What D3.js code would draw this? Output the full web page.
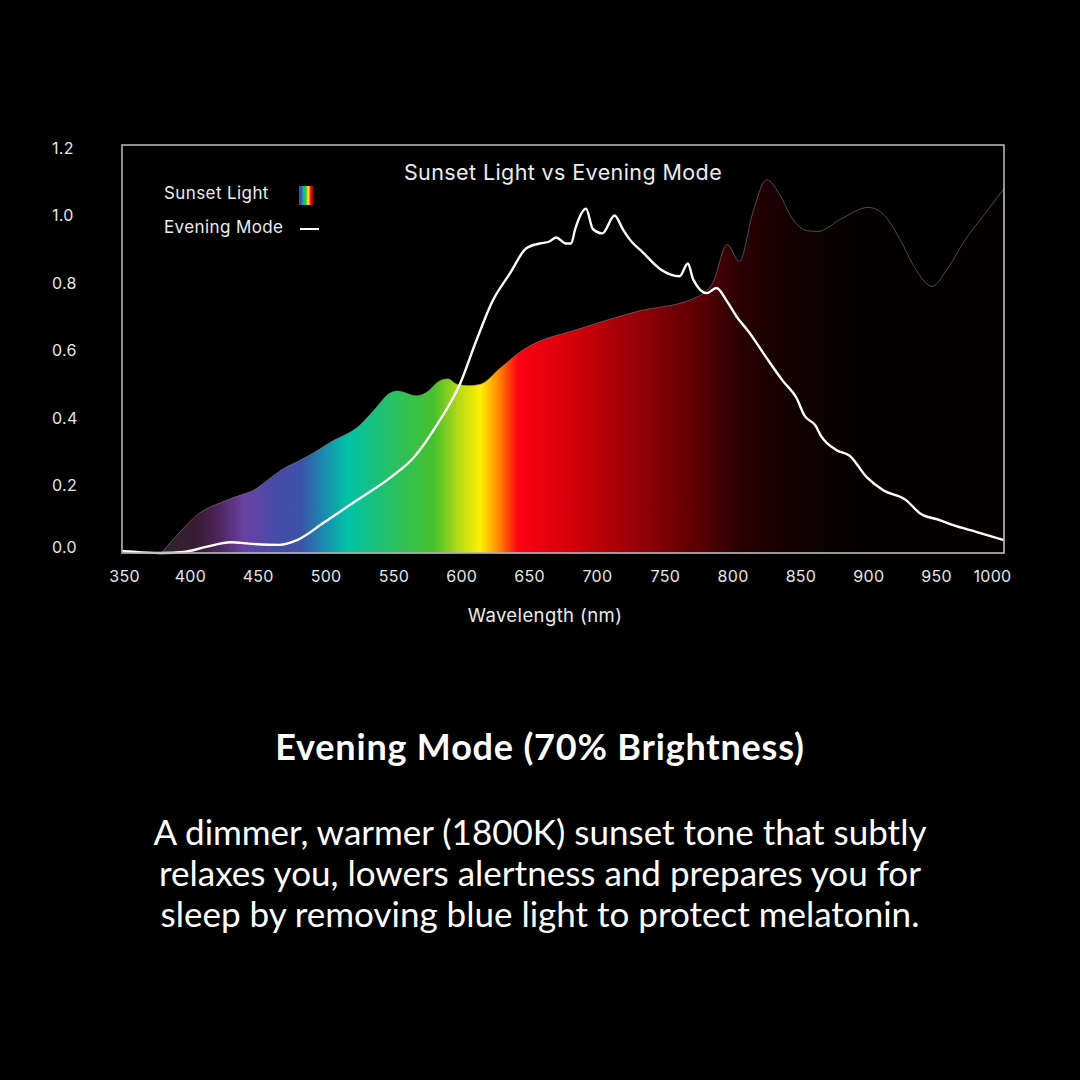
<!DOCTYPE html>
<html lang="en">
<head>
  <meta charset="UTF-8">
  <title>Sunset Light vs Evening Mode</title>
  <script src="https://d3js.org/d3.v7.min.js"></script>
  <style>
    html, body { width:100%; height:100%; margin:0; background:#000; overflow:hidden; }
    svg { display:block; }
    .chart-text { font-family: Inter, "Open Sans", sans-serif; fill:#ececec; letter-spacing:0.4px; }
    .tick text { font-family: Inter, "Open Sans", sans-serif; font-size:16px; fill:#e6e6e6; letter-spacing:0.3px; }
    .copy { font-family: Lato, "Open Sans", sans-serif; fill:#fff; }
  </style>
</head>
<body>
  <svg id="chart" width="1080" height="1080"></svg>
  <script>
    // Sunset light spectrum (relative intensity)
    const sunsetWl  = [379, 392, 407, 422, 437, 447, 457, 469, 481, 494, 503, 525, 535, 548, 553, 567, 574, 584, 590, 597, 606, 614, 629, 648, 658, 682, 731, 770, 785, 796, 805, 815, 825, 835, 844, 855, 863, 880, 900, 912, 923, 935, 947, 958, 972, 985, 1000];
    const sunsetVal = [0, 0.059, 0.118, 0.148, 0.171, 0.186, 0.215, 0.25, 0.274, 0.304, 0.327, 0.378, 0.42, 0.475, 0.48, 0.466, 0.475, 0.51, 0.516, 0.5, 0.496, 0.5, 0.549, 0.608, 0.628, 0.658, 0.717, 0.752, 0.797, 0.914, 0.864, 1.01, 1.106, 1.06, 0.991, 0.955, 0.953, 0.99, 1.024, 1.0, 0.932, 0.84, 0.79, 0.84, 0.932, 1.0, 1.08];

    // Evening mode spectrum
    const eveWl  = [350, 365, 380, 395, 412, 430, 446, 466, 479, 498, 523, 548, 565, 584, 599, 611, 623, 636, 648, 658, 665, 670, 677, 681, 684, 692, 697, 704, 713, 719, 724, 734, 747, 761, 767, 771, 781, 788, 796, 803, 812, 825, 837, 847, 853, 861, 865, 877, 886, 899, 911, 928, 938, 953, 962, 980, 1000];
    const eveVal = [0.006, 0.002, 0, 0.003, 0.018, 0.032, 0.027, 0.024, 0.038, 0.088, 0.156, 0.224, 0.283, 0.392, 0.5, 0.628, 0.746, 0.829, 0.903, 0.917, 0.923, 0.935, 0.917, 0.917, 0.96, 1.02, 0.96, 0.947, 1.0, 0.96, 0.93, 0.89, 0.84, 0.82, 0.858, 0.81, 0.77, 0.785, 0.745, 0.7, 0.655, 0.578, 0.51, 0.46, 0.407, 0.378, 0.348, 0.304, 0.289, 0.224, 0.186, 0.156, 0.118, 0.097, 0.083, 0.062, 0.038];

    // spectrum colour stops
    const gradWl    = [379, 405, 422, 440, 462, 482, 500, 516, 542, 580, 600, 614, 628, 642, 690, 734, 775, 805, 850, 900];
    const gradColor = ["#2c2530", "#3a1a33", "#4e2660", "#6a42a2", "#4a4aa8", "#3a52a8", "#1a8fb0", "#00c2a6", "#20c070", "#48c02c", "#c0dc14", "#fff000", "#ff8400", "#ff0012", "#c80008", "#900006", "#5a0004", "#2a0002", "#100000", "#040000"];

    const xTicks = [350, 400, 450, 500, 550, 600, 650, 700, 750, 800, 850, 900, 950, 1000];
    const yTicks = [0, 0.2, 0.4, 0.6, 0.8, 1.0, 1.2];

    const bodyLines = [
      "A dimmer, warmer (1800K) sunset tone that subtly",
      "relaxes you, lowers alertness and prepares you for",
      "sleep by removing blue light to protect melatonin."
    ];

    const svg = d3.select("#chart");
    const x = d3.scaleLinear().domain([350, 1000]).range([122, 1004]);
    const y = d3.scaleLinear().domain([0, 1.2]).range([553, 148]);

    const defs = svg.append("defs");
    const grad = defs.append("linearGradient")
      .attr("id", "spectrum")
      .attr("gradientUnits", "userSpaceOnUse")
      .attr("x1", x(350)).attr("x2", x(1000)).attr("y1", 0).attr("y2", 0);
    grad.selectAll("stop")
      .data(gradWl)
      .join("stop")
        .attr("offset", d => (x(d) - x(350)) / (x(1000) - x(350)))
        .attr("stop-color", (d, i) => gradColor[i]);

    // little swatch for the legend
    const sw = defs.append("linearGradient").attr("id", "swatch");
    sw.selectAll("stop")
      .data(gradWl.slice(3, 16))
      .join("stop")
        .attr("offset", (d, i, n) => i / (n.length - 1))
        .attr("stop-color", (d, i) => gradColor[i + 3]);

    // sunset area
    const sunset = sunsetWl.map((w, i) => [w, sunsetVal[i]]);
    svg.append("path")
      .datum(sunset)
      .attr("fill", "url(#spectrum)")
      .attr("stroke", "#8a8a8a")
      .attr("stroke-opacity", 0.7)
      .attr("stroke-width", 0.8)
      .attr("d", d3.area()
        .x(d => x(d[0]))
        .y0(y(0))
        .y1(d => y(d[1]))
        .curve(d3.curveMonotoneX));

    // evening mode line
    const eve = eveWl.map((w, i) => [w, eveVal[i]]);
    svg.append("path")
      .datum(eve)
      .attr("fill", "none")
      .attr("stroke", "#fff")
      .attr("stroke-width", 2.4)
      .attr("stroke-linejoin", "round")
      .attr("d", d3.line()
        .x(d => x(d[0]))
        .y(d => y(d[1]))
        .curve(d3.curveMonotoneX));

    // frame
    svg.append("rect")
      .attr("x", x(350)).attr("y", 145)
      .attr("width", x(1000) - x(350)).attr("height", y(0) - 145)
      .attr("fill", "none")
      .attr("stroke", "#b4b4b4")
      .attr("stroke-width", 1.6);

    // axes
    const yAxis = svg.append("g")
      .attr("transform", "translate(52,0)")
      .call(d3.axisRight(y).tickValues(yTicks).tickFormat(d3.format(".1f")).tickSize(0).tickPadding(0));
    yAxis.select(".domain").remove();
    yAxis.selectAll(".tick text").attr("dy", d => d === 0 ? "-0.05em" : "0.32em");

    const xAxis = svg.append("g")
      .attr("transform", `translate(0,${y(0)})`)
      .call(d3.axisBottom(x).tickValues(xTicks).tickFormat(d3.format("d")).tickSize(0).tickPadding(18));
    xAxis.select(".domain").remove();
    xAxis.selectAll(".tick text").attr("dx", d => d === 1000 ? -12 : d === 350 ? 2 : 0);

    svg.append("text")
      .attr("class", "chart-text")
      .attr("x", 545).attr("y", 622)
      .attr("text-anchor", "middle")
      .style("font-size", "18.5px")
      .text("Wavelength (nm)");

    svg.append("text")
      .attr("class", "chart-text")
      .attr("x", 563).attr("y", 180)
      .attr("text-anchor", "middle")
      .style("font-size", "21.5px")
      .text("Sunset Light vs Evening Mode");

    // legend
    svg.append("text")
      .attr("class", "chart-text")
      .attr("x", 164).attr("y", 199)
      .style("font-size", "17px")
      .text("Sunset Light");
    svg.append("rect")
      .attr("x", 299).attr("y", 186)
      .attr("width", 14).attr("height", 19)
      .attr("fill", "url(#swatch)");
    svg.append("text")
      .attr("class", "chart-text")
      .attr("x", 164).attr("y", 233)
      .style("font-size", "17px")
      .text("Evening Mode");
    svg.append("line")
      .attr("x1", 300).attr("x2", 319)
      .attr("y1", 229).attr("y2", 229)
      .attr("stroke", "#fff")
      .attr("stroke-width", 2);

    // caption
    svg.append("text")
      .attr("class", "copy")
      .attr("x", 540).attr("y", 760)
      .attr("text-anchor", "middle")
      .style("font-size", "36px")
      .style("font-weight", 700)
      .style("letter-spacing", "0.8px")
      .text("Evening Mode (70% Brightness)");

    svg.append("g")
      .selectAll("text")
      .data(bodyLines)
      .join("text")
        .attr("class", "copy")
        .attr("x", 540)
        .attr("y", (d, i) => 845 + i * 41)
        .attr("text-anchor", "middle")
        .style("font-size", "35px")
        .text(d => d);
  </script>
</body>
</html>
